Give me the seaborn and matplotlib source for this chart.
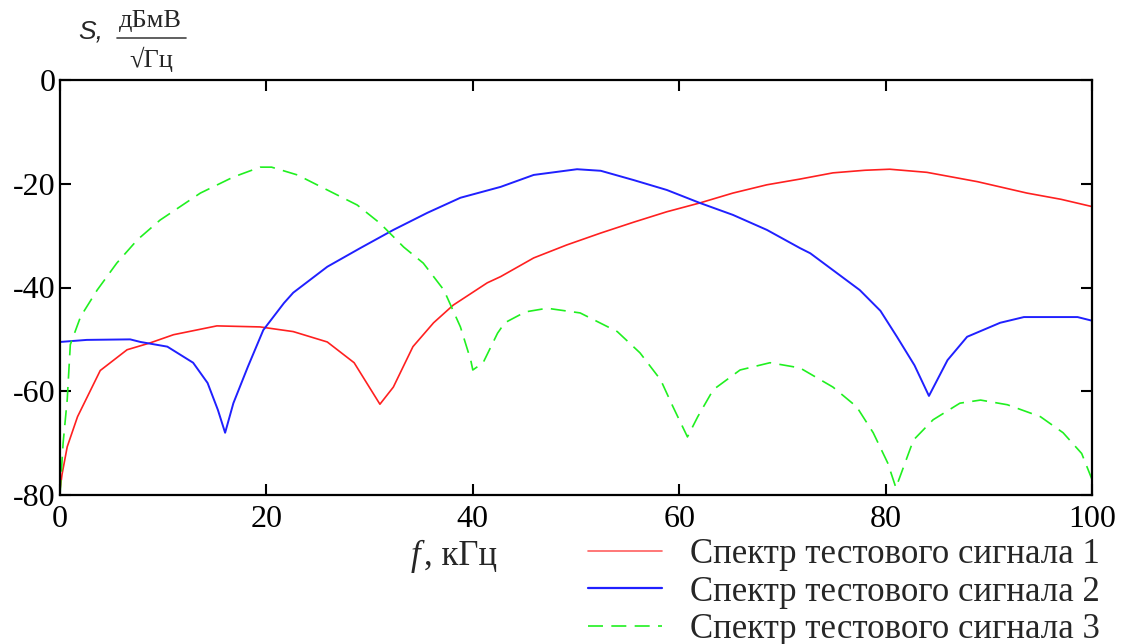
import numpy as np
import pandas as pd
import matplotlib
matplotlib.use("Agg")
import matplotlib.pyplot as plt
import seaborn as sns
from matplotlib.lines import Line2D

# ---- data ----
x1 = [0.0, 0.2, 0.7, 1.7, 3.9, 6.5, 8.7, 11.0, 15.2, 19.4, 22.6, 25.9, 28.5, 30.0, 31.0,
      32.3, 34.2, 36.2, 38.1, 41.4, 42.7, 45.9, 49.1, 52.4, 55.6, 58.8, 62.0, 65.2, 68.5,
      71.7, 74.9, 78.0, 80.4, 84.0, 88.9, 93.7, 97.0, 100.0]
y1 = [-79.0, -76.0, -70.7, -64.9, -56.0, -52.0, -50.7, -49.1, -47.4, -47.6, -48.5, -50.5, -54.5, -59.3, -62.5,
      -59.2, -51.4, -46.8, -43.4, -39.1, -37.9, -34.3, -31.8, -29.5, -27.4, -25.4, -23.7, -21.8, -20.2,
      -19.1, -17.9, -17.4, -17.2, -17.8, -19.6, -21.8, -23.0, -24.4]

x2 = [0.0, 2.6, 6.8, 7.8, 10.4, 12.9, 14.3, 15.3, 16.0, 16.8, 18.2, 19.7, 21.7, 22.6, 25.9,
      29.1, 32.3, 35.6, 38.8, 42.7, 45.9, 50.1, 52.4, 55.6, 58.8, 62.0, 65.2, 68.5, 71.7,
      72.7, 77.5, 79.5, 81.1, 82.8, 84.2, 86.0, 87.9, 91.1, 93.4, 98.6, 100.0]
y2 = [-50.5, -50.1, -50.0, -50.5, -51.4, -54.5, -58.4, -63.6, -68.0, -62.3, -55.3, -48.2, -43.0, -41.0, -36.0,
      -32.4, -28.9, -25.6, -22.7, -20.6, -18.3, -17.2, -17.5, -19.3, -21.2, -23.7, -26.0, -28.9, -32.4,
      -33.4, -40.5, -44.5, -49.5, -55.0, -60.9, -54.0, -49.5, -46.8, -45.7, -45.7, -46.4]

x3 = [0.0, 0.3, 0.7, 1.0, 2.0, 3.6, 5.5, 7.5, 9.7, 13.6, 16.8, 19.4, 20.5, 23.0, 25.9, 28.8,
      31.0, 33.3, 35.2, 37.2, 38.8, 39.8, 40.0, 41.0, 42.4, 43.1, 45.1, 47.2, 50.4, 54.0,
      56.2, 58.2, 59.4, 60.8, 61.8, 63.3, 65.9, 68.8, 71.7, 74.9, 77.2, 78.8, 80.2, 81.0,
      82.7, 84.6, 87.2, 89.2, 91.8, 95.0, 97.2, 99.0, 100.0]
y3 = [-80.0, -70.0, -61.6, -51.0, -45.6, -40.5, -35.3, -30.8, -27.0, -21.8, -18.7, -16.8, -16.8, -18.3, -21.2, -24.1,
      -27.6, -32.2, -35.3, -40.5, -47.6, -54.0, -55.9, -54.5, -48.8, -46.8, -44.7, -44.0, -44.9, -48.5,
      -52.6, -57.8, -63.0, -68.8, -64.9, -59.7, -55.9, -54.5, -55.5, -59.2, -63.0, -68.0, -73.8, -78.6,
      -69.4, -65.5, -62.3, -61.7, -62.6, -64.9, -68.0, -72.0, -77.0]

labels = ["Спектр тестового сигнала 1", "Спектр тестового сигнала 2", "Спектр тестового сигнала 3"]
xticks = [0, 20, 40, 60, 80, 100]
yticks = [0, -20, -40, -60, -80]

# ---- style ----
sns.set_style("white")
plt.rcParams["font.family"] = ["Liberation Serif", "DejaVu Serif"]
plt.rcParams["axes.unicode_minus"] = False

W, H = 1130, 644
fig = plt.figure(figsize=(W / 100, H / 100), dpi=100)
ax = fig.add_axes([60 / W, 1 - 495 / H, (1092 - 60) / W, (495 - 80) / H])

d1 = pd.DataFrame({"x": x1, "y": y1})
d2 = pd.DataFrame({"x": x2, "y": y2})
d3 = pd.DataFrame({"x": x3, "y": y3})

sns.lineplot(data=d1, x="x", y="y", ax=ax, color="#ff2020", linewidth=1.2, sort=False)
sns.lineplot(data=d2, x="x", y="y", ax=ax, color="#2020ff", linewidth=1.4, sort=False)
sns.lineplot(data=d3, x="x", y="y", ax=ax, color="#20f020", linewidth=1.2, sort=False)
ax.lines[2].set_dashes([9, 5])

ax.set_xlim(0, 100)
ax.set_ylim(-80, 0)
ax.set_xticks(xticks)
ax.set_yticks(yticks)
ax.set_xticklabels([str(v) for v in xticks])
ax.set_yticklabels([str(v) for v in yticks])
ax.set_xlabel("")
ax.set_ylabel("")
for s in ax.spines.values():
    s.set_visible(True)
    s.set_color("black")
    s.set_linewidth(1.6)
ax.tick_params(direction="in", length=8, width=1.5, top=True, right=True,
               bottom=True, left=True, labelsize=23, colors="black")
ax.tick_params(axis="x", pad=7)
ax.tick_params(axis="y", pad=3)

# ---- axis labels (figure pixel placement) ----
def fx(px):
    return px / W

def fy(py):
    return 1 - py / H

fig.text(fx(78), fy(31), "S,", family=["Liberation Sans"], style="italic",
         fontsize=19, ha="left", va="center")
fig.text(fx(150), fy(21), "дБмВ", fontsize=19, ha="center", va="center")
fig.add_artist(Line2D([fx(117), fx(186)], [fy(38), fy(38)], color="#444444", linewidth=1.2))
fig.text(fx(151), fy(59), "√Гц", fontsize=19, ha="center", va="center")

fig.text(fx(411), fy(556), "f", style="italic", fontsize=25, ha="left", va="center")
fig.text(fx(424), fy(556), ", кГц", fontsize=25, ha="left", va="center")

# ---- legend ----
handles = [Line2D([], [], color="#ff6060", linewidth=1.2),
           Line2D([], [], color="#2020ff", linewidth=1.6),
           Line2D([], [], color="#20f020", linewidth=1.2, dashes=[9, 5])]
fig.legend(handles, labels, loc="upper left", bbox_to_anchor=(fx(588), fy(538)),
           frameon=False, fontsize=25, handlelength=2.13, handletextpad=0.8,
           labelspacing=0.13, borderpad=0, borderaxespad=0)

fig.savefig("out.png", dpi=100)
